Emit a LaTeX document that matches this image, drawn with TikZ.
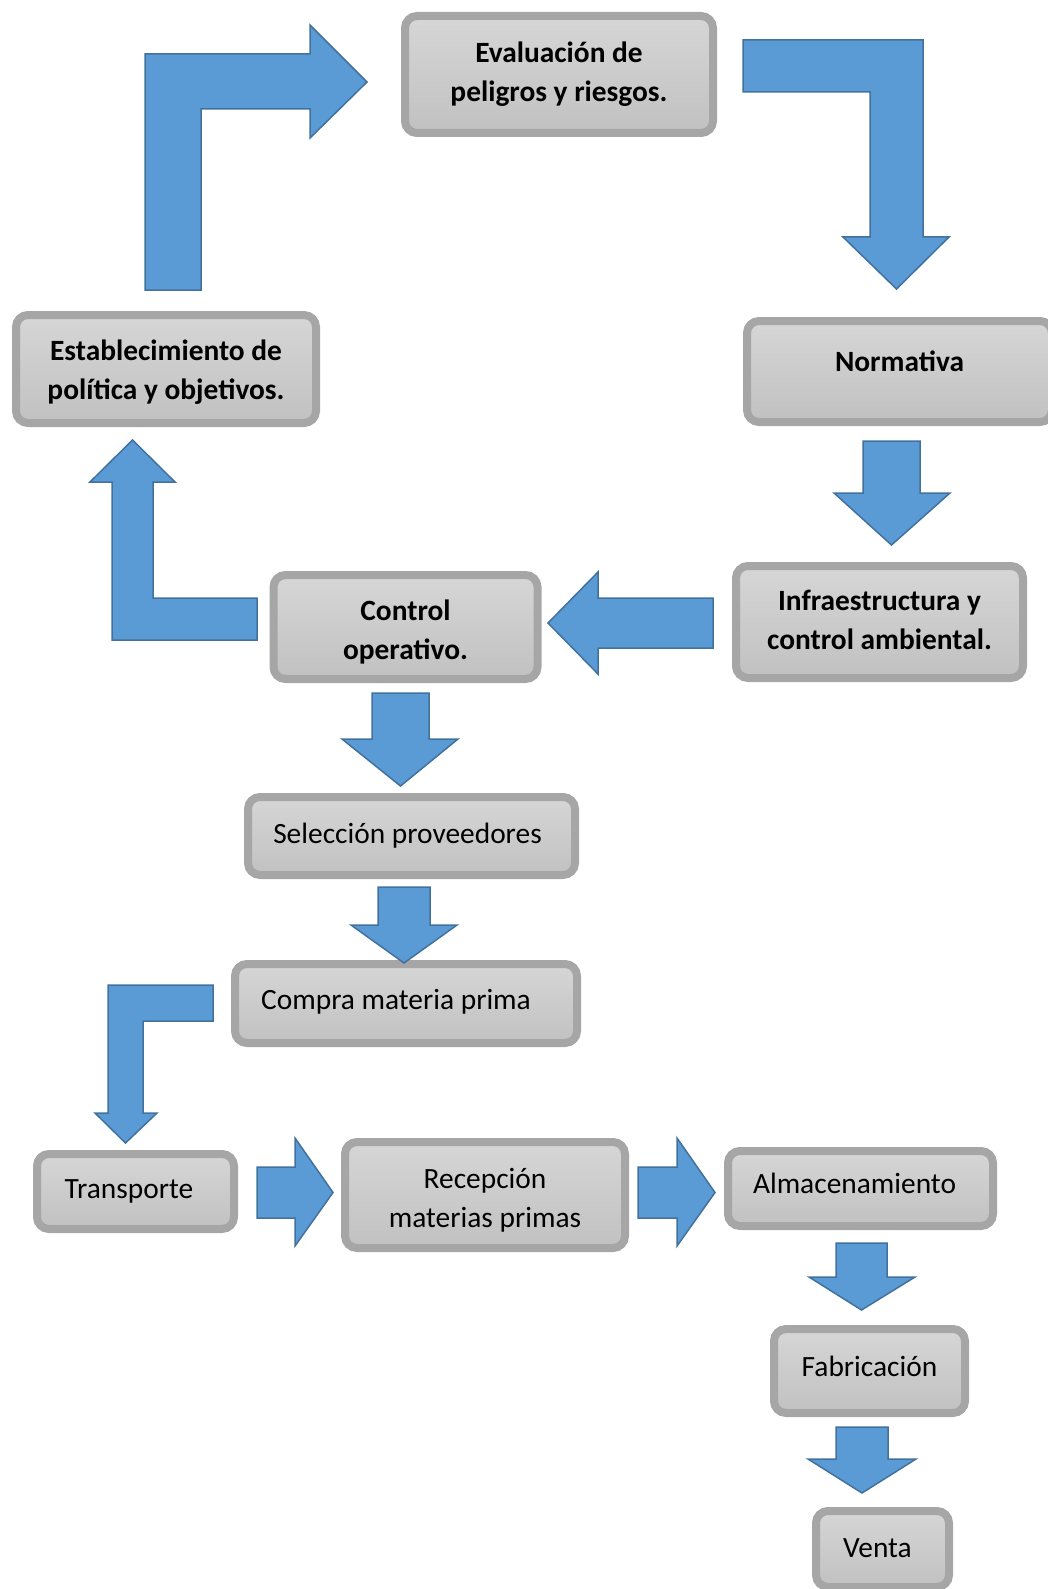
\documentclass[tikz,border=0pt]{standalone}
\usepackage{fontspec}
\setmainfont{Carlito}
\definecolor{boxline}{HTML}{A6A6A6}
\definecolor{boxtop}{HTML}{D6D6D6}
\definecolor{boxbot}{HTML}{C1C1C1}
\definecolor{arrowfill}{HTML}{5B9BD5}
\definecolor{arrowline}{HTML}{41719C}
\newcommand\boxfont{\fontsize{29.4}{39}\selectfont}
% invisible struts that fix the height of a first line and the depth of a last line
\newcommand\topstrut{\rule{0pt}{30pt}}
\newcommand\botstrut[1]{\rule[-#1]{0pt}{#1}}

\begin{document}
\begin{tikzpicture}[x=1pt,y=-1pt,
  stage/.style={draw=boxline, line width=8pt, rounded corners=12pt,
    top color=boxtop, bottom color=boxbot, inner sep=0pt, font=\boxfont},
  keystage/.style={stage, font=\boxfont\bfseries, align=center},
  oneline/.style={text height=22pt, text depth=#1},
  oneline/.default=8.3pt,
  blockarrow/.style={fill=arrowfill, draw=arrowline, line width=1.5pt, line join=miter}]

\useasboundingbox (0,0) rectangle (1048,1589);

% management cycle
\node[keystage, minimum width=308pt, minimum height=117pt] (eval) at (559,74.5)
  {\topstrut Evaluación de\\peligros y riesgos.\botstrut{14.3pt}};
\node[keystage, oneline=21.3pt, minimum width=305pt, minimum height=101pt]
  (norm) at (899.5,371.5) {Normativa};
\node[keystage, minimum width=300pt, minimum height=108pt] (estab) at (166,369)
  {\topstrut Establecimiento de\\política y objetivos.\botstrut{8.3pt}};
\node[keystage, minimum width=287pt, minimum height=112pt] (infra) at (879.5,622)
  {\topstrut Infraestructura y\\control ambiental.\botstrut{13.3pt}};
\node[keystage, minimum width=264pt, minimum height=104pt] (ctrl) at (405.5,627)
  {\topstrut Control\\operativo.\botstrut{0.3pt}};

% supply chain
\node[stage, oneline=6.3pt, minimum width=327pt, minimum height=78pt] (sel) at (411.5,836)
  {Selección proveedores\hspace*{8pt}};
\node[stage, oneline=9.3pt, minimum width=342pt, minimum height=79pt] (compra) at (406,1003.5)
  {Compra materia prima\hspace*{20pt}};
\node[stage, oneline, minimum width=197pt, minimum height=75pt] (trans) at (135.5,1191.5)
  {Transporte\hspace*{13pt}};
\node[stage, align=center, minimum width=280pt, minimum height=106pt] (recep) at (485,1195)
  {\topstrut Recepción\\materias primas\botstrut{2.3pt}};
\node[stage, oneline=12.3pt, minimum width=265pt, minimum height=75pt] (alm) at (860.5,1188.5)
  {Almacenamiento\hspace*{12pt}};
\node[stage, oneline=10.3pt, minimum width=191pt, minimum height=84pt] (fab) at (869.5,1371)
  {Fabricación};
\node[stage, oneline=4.3pt, minimum width=133pt, minimum height=76pt] (venta) at (882.5,1549)
  {Venta\hspace*{10pt}};

% block arrows
% estab -> eval (up, then right)
\draw[blockarrow] (145,290) -- (145,54) -- (310,54) -- (310,25) -- (367,82)
  -- (310,138) -- (310,109) -- (201,109) -- (201,290) -- cycle;
% eval -> norm (right, then down)
\draw[blockarrow] (743,40) -- (923,40) -- (923,237) -- (949,237) -- (896.5,289)
  -- (843,237) -- (870,237) -- (870,92) -- (743,92) -- cycle;
% norm -> infra
\draw[blockarrow] (863,441) -- (920,441) -- (920,493) -- (950,493) -- (891.5,545)
  -- (834,493) -- (863,493) -- cycle;
% infra -> ctrl
\draw[blockarrow] (713,598) -- (598,598) -- (598,572) -- (548,623) -- (598,674)
  -- (598,648) -- (713,648) -- cycle;
% ctrl -> estab (left, then up)
\draw[blockarrow] (257,598) -- (153,598) -- (153,482) -- (175,482) -- (132.5,440)
  -- (90,482) -- (112,482) -- (112,640) -- (257,640) -- cycle;
% ctrl -> sel
\draw[blockarrow] (372,693) -- (429,693) -- (429,739) -- (458,739) -- (400.5,786)
  -- (342,739) -- (372,739) -- cycle;
% sel -> compra
\draw[blockarrow] (378,887) -- (430,887) -- (430,925) -- (457,925) -- (404,963)
  -- (351,925) -- (378,925) -- cycle;
% compra -> trans (left, then down)
\draw[blockarrow] (213,985) -- (108,985) -- (108,1113) -- (95,1113) -- (125.5,1143)
  -- (157,1113) -- (143,1113) -- (143,1021) -- (213,1021) -- cycle;
% trans -> recep
\draw[blockarrow] (257,1167) -- (295,1167) -- (295,1138) -- (333,1192.5) -- (295,1246)
  -- (295,1218) -- (257,1218) -- cycle;
% recep -> alm
\draw[blockarrow] (638,1167) -- (677,1167) -- (677,1138) -- (715,1192.5) -- (677,1246)
  -- (677,1218) -- (638,1218) -- cycle;
% alm -> fab
\draw[blockarrow] (836,1243) -- (887,1243) -- (887,1277) -- (915,1277) -- (861.5,1310)
  -- (809,1277) -- (836,1277) -- cycle;
% fab -> venta
\draw[blockarrow] (836,1427) -- (888,1427) -- (888,1459) -- (916,1459) -- (862,1493)
  -- (808,1459) -- (836,1459) -- cycle;
\end{tikzpicture}
\end{document}
